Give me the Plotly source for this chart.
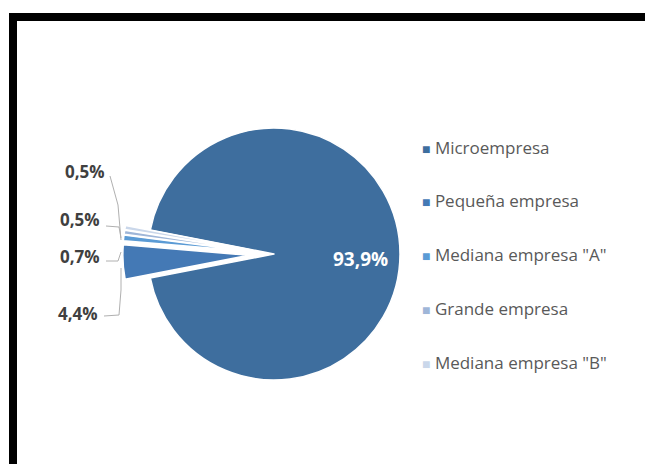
import plotly.graph_objects as go

# Company size distribution
categories = ["Microempresa", "Pequeña empresa", "Mediana empresa \"A\"",
              "Grande empresa", "Mediana empresa \"B\""]
shares = [93.9, 4.4, 0.7, 0.5, 0.5]
colors = ["#3E6E9E", "#4479B5", "#5B9BD5", "#9FB6D8", "#CAD7EA"]
pulls = [0, 0.2, 0.2, 0.2, 0.2]

W, H = 645, 464


def px(x):
    return x / W


def py(y):
    return 1 - y / H


def fmt(v):
    return f"{v:.1f}".replace(".", ",") + "%"


# pie geometry (pixels): centre and radius
cx, cy, r = 274, 254, 126
half = r * (1 + max(pulls))

fig = go.Figure(go.Pie(
    labels=categories,
    values=shares,
    sort=False,
    direction="clockwise",
    rotation=90 - shares[0] / 100 * 360 / 2,
    pull=pulls,
    marker=dict(colors=colors, line=dict(color="white", width=1.5)),
    textinfo="none",
    showlegend=False,
    domain=dict(x=[px(cx - half), px(cx + half)],
                y=[py(cy + half), py(cy - half)]),
))

annotations = []
# value inside the large slice
annotations.append(dict(
    x=px(360), y=py(259), xref="paper", yref="paper",
    xanchor="center", yanchor="middle",
    text=f"<b>{fmt(shares[0])}</b>", showarrow=False,
    font=dict(family="Open Sans", size=19, color="white"),
))

# labels for the small slices, stacked on the left (top to bottom)
small_order = [4, 3, 2, 1]
label_y = [171, 219, 256, 313]
label_x = [107, 102, 102, 100]
for idx, ly, lx in zip(small_order, label_y, label_x):
    annotations.append(dict(
        x=px(lx), y=py(ly), xref="paper", yref="paper",
        xanchor="right", yanchor="middle",
        text=f"<b>{fmt(shares[idx])}</b>", showarrow=False,
        font=dict(family="Open Sans", size=17, color="#404040"),
    ))

# legend entries
leg_y0, leg_step = 147, 53.8
for i, (name, col) in enumerate(zip(categories, colors)):
    annotations.append(dict(
        x=px(420), y=py(leg_y0 + i * leg_step), xref="paper", yref="paper",
        xanchor="left", yanchor="middle",
        text=f"<span style='color:{col};font-size:14px'>■</span> {name}",
        showarrow=False,
        font=dict(family="Open Sans", size=17, color="#595959"),
    ))

# leader lines and frame
def path(points):
    d = "M " + " L ".join(f"{px(x)},{py(y)}" for x, y in points)
    return d

line_style = dict(color="#B0B0B0", width=1)
shapes = [
    dict(type="path", xref="paper", yref="paper",
         path=path([(110, 176), (118, 205), (121, 240)]), line=line_style),
    dict(type="path", xref="paper", yref="paper",
         path=path([(106, 226), (119, 227), (121, 238)]), line=line_style),
    dict(type="path", xref="paper", yref="paper",
         path=path([(106, 261), (118, 261), (121, 252)]), line=line_style),
    dict(type="path", xref="paper", yref="paper",
         path=path([(104, 316), (119, 315), (121, 290), (121, 268)]), line=line_style),
    # heavy black frame along the top and left edges
    dict(type="rect", xref="paper", yref="paper",
         x0=px(9), x1=px(W), y0=py(21), y1=py(13),
         fillcolor="black", line=dict(width=0)),
    dict(type="rect", xref="paper", yref="paper",
         x0=px(9), x1=px(17), y0=py(H), y1=py(13),
         fillcolor="black", line=dict(width=0)),
]

fig.update_layout(
    width=W, height=H,
    margin=dict(l=0, r=0, t=0, b=0),
    paper_bgcolor="white",
    plot_bgcolor="white",
    separators=",.",
    annotations=annotations,
    shapes=shapes,
)

fig.write_html("out.html")
